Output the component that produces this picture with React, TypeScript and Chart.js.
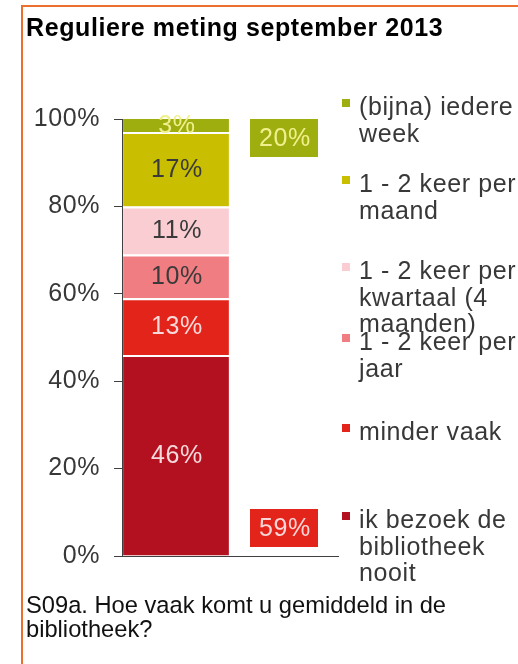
import React, { useEffect, useRef } from 'react';
import { Chart, registerables } from 'chart.js';

Chart.register(...registerables);

// ---------- data ----------
const TITLE = 'Reguliere meting september 2013';
const FOOTNOTE_LINES = ['S09a. Hoe vaak komt u gemiddeld in de', 'bibliotheek?'];
const categories = ['september 2013', 'totaal'];
// stack order: bottom -> top
const seriesNames = [
  'ik bezoek de bibliotheek nooit',
  'minder vaak',
  '1 - 2 keer per jaar',
  '1 - 2 keer per kwartaal (4 maanden)',
  '1 - 2 keer per maand',
  '(bijna) iedere week',
];
const seriesValues = [46, 13, 10, 11, 17, 3];
const seriesColors = ['#B3111F', '#E3241B', '#F07D82', '#F9CDD1', '#C9BE00', '#9DAE0E'];
const valueLabelColors = ['#F6D9DC', '#F9DADA', '#3A3A3A', '#3A3A3A', '#3A3A3A', '#F2F08E'];
// legend, top -> bottom (wrapped as in the original)
const legendLines = [
  ['(bijna) iedere', 'week'],
  ['1 - 2 keer per', 'maand'],
  ['1 - 2 keer per', 'kwartaal (4', 'maanden)'],
  ['1 - 2 keer per', 'jaar'],
  ['minder vaak'],
  ['ik bezoek de', 'bibliotheek', 'nooit'],
];
const legendColors = ['#9DAE0E', '#C9BE00', '#F9CDD1', '#F07D82', '#E3241B', '#B3111F'];
const summaryValues = [20, 59]; // top two / bottom two
const summaryColors = ['#9DAE0E', '#E3241B'];
const summaryTextColors = ['#F2F08E', '#FAD6D6'];
const yTicks = [0, 20, 40, 60, 80, 100];

// ---------- layout ----------
const W = 518;
const H = 664;
const FONT = '"Liberation Sans", Arial, sans-serif';
const legendBaselines = [115, 192, 279, 350, 440, 528];
const LEGEND_LINE = 26.5;
const LS = '0.6px';

const valueLabelPlugin = {
  id: 'valueLabels',
  beforeDraw(chart: any) {
    chart.ctx.letterSpacing = LS;
  },
  afterDatasetsDraw(chart: any) {
    const ctx = chart.ctx;
    ctx.save();
    ctx.letterSpacing = LS;
    ctx.font = `25px ${FONT}`;
    ctx.textAlign = 'center';
    ctx.textBaseline = 'middle';
    chart.data.datasets.forEach((ds: any, i: number) => {
      const meta = chart.getDatasetMeta(i);
      const el = meta.data[0];
      if (!el) return;
      const yc = (el.y + el.base) / 2;
      ctx.fillStyle = valueLabelColors[i];
      ctx.fillText(`${ds.data[0]}%`, el.x + 1, yc + 1);
    });
    // summary boxes in the second category
    const xs = chart.scales.x;
    const ys = chart.scales.y;
    const cx = xs.getPixelForValue(1);
    const bw = 68;
    const bh = 38;
    const tops = [ys.getPixelForValue(100), ys.getPixelForValue(0) - 9 - bh];
    summaryValues.forEach((v, i) => {
      ctx.fillStyle = summaryColors[i];
      ctx.fillRect(cx - bw / 2, tops[i], bw, bh);
      ctx.fillStyle = summaryTextColors[i];
      ctx.fillText(`${v}%`, cx + 1, tops[i] + bh / 2 + 1);
    });
    ctx.restore();
  },
};

function ChartCanvas() {
  const ref = useRef<HTMLCanvasElement | null>(null);
  useEffect(() => {
    if (!ref.current) return;
    const n = seriesValues.length;
    const chart = new Chart(ref.current, {
      type: 'bar',
      data: {
        labels: categories,
        datasets: seriesNames.map((name, i) => ({
          label: name,
          data: [seriesValues[i], null],
          backgroundColor: seriesColors[i],
          borderColor: '#FFFFFF',
          borderWidth: i < n - 1 ? { top: 2, left: 0, right: 0, bottom: 0 } : 0,
          borderSkipped: false,
          barPercentage: 0.98,
          categoryPercentage: 1,
        })),
      },
      options: {
        responsive: false,
        animation: false,
        devicePixelRatio: 1,
        layout: { padding: { left: 0, top: 119, right: 180, bottom: 108 } },
        plugins: {
          legend: { display: false },
          tooltip: { enabled: false },
          title: { display: false },
        },
        scales: {
          x: {
            stacked: true,
            offset: true,
            grid: { display: false },
            border: { display: true, color: '#404040', width: 1 },
            ticks: { display: false },
            afterFit: (s: any) => {
              s.height = 0;
            },
          },
          y: {
            stacked: true,
            min: 0,
            max: 100,
            afterBuildTicks: (s: any) => {
              s.ticks = yTicks.map((v) => ({ value: v }));
            },
            afterFit: (s: any) => {
              s.width = 122;
            },
            grid: {
              display: true,
              drawOnChartArea: false,
              drawTicks: true,
              tickLength: 8,
              color: '#404040',
            },
            border: { display: true, color: '#404040', width: 1 },
            ticks: {
              padding: 14,
              color: '#383838',
              font: { family: FONT, size: 25 },
              callback: (v: any) => `${v}%`,
            },
          },
        },
      } as any,
      plugins: [valueLabelPlugin],
    });
    return () => chart.destroy();
  }, []);
  return (
    <canvas
      ref={ref}
      width={W}
      height={H}
      style={{ position: 'absolute', left: 0, top: 0, width: W, height: H, display: 'block' }}
    />
  );
}

export default function App() {
  return (
    <div
      style={{
        position: 'absolute',
        left: 0,
        top: 0,
        width: W,
        height: H,
        overflow: 'hidden',
        background: '#FFFFFF',
        fontFamily: FONT,
      }}
    >
      <div
        style={{
          position: 'absolute',
          left: 21,
          top: 5,
          width: W + 40,
          height: H + 40,
          borderTop: '2px solid #EC6F2D',
          borderLeft: '2px solid #EC6F2D',
        }}
      />
      <ChartCanvas />
      <div
        style={{
          position: 'absolute',
          left: 26,
          top: 13,
          fontSize: 25,
          lineHeight: '28px',
          fontWeight: 'bold',
          letterSpacing: '0.6px',
          color: '#000',
          whiteSpace: 'nowrap',
        }}
      >
        {TITLE}
      </div>
      {legendLines.map((lines, i) => (
        <div key={i}>
          <div
            style={{
              position: 'absolute',
              left: 342,
              top: legendBaselines[i] - 16,
              width: 8,
              height: 8,
              background: legendColors[i],
            }}
          />
          <div
            style={{
              position: 'absolute',
              left: 359,
              top: legendBaselines[i] - 21.9,
              fontSize: 25,
              lineHeight: `${LEGEND_LINE}px`,
              letterSpacing: LS,
              color: '#383838',
              whiteSpace: 'nowrap',
            }}
          >
            {lines.map((l, j) => (
              <div key={j}>{l}</div>
            ))}
          </div>
        </div>
      ))}
      <div
        style={{
          position: 'absolute',
          left: 26,
          top: 593,
          fontSize: 23.7,
          lineHeight: '24px',
          color: '#111',
          whiteSpace: 'nowrap',
        }}
      >
        {FOOTNOTE_LINES.map((l, j) => (
          <div key={j}>{l}</div>
        ))}
      </div>
    </div>
  );
}
